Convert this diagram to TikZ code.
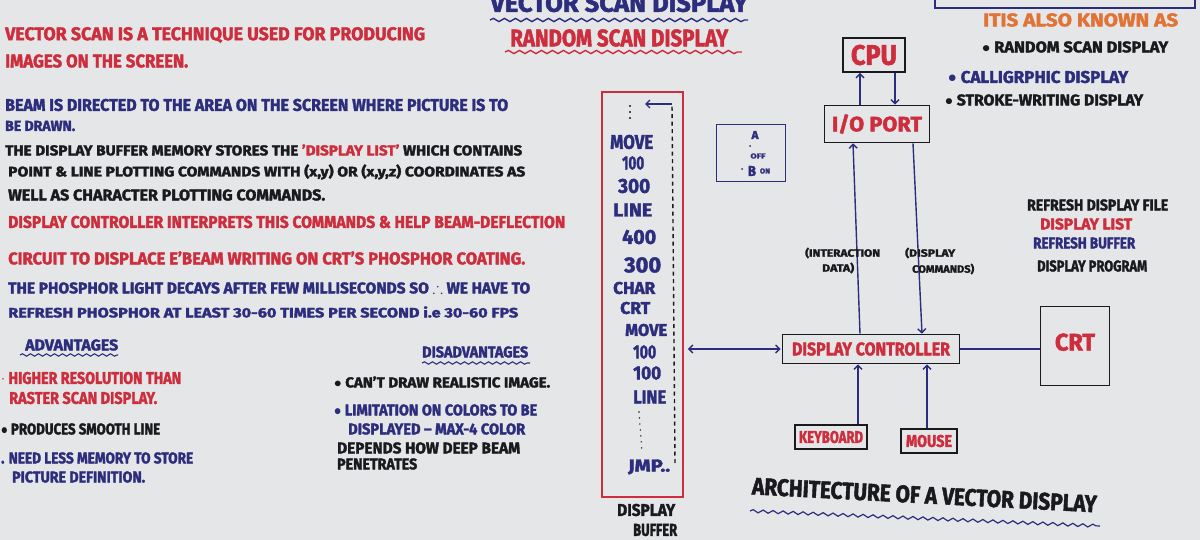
\documentclass[tikz,border=0pt]{standalone}
\usepackage{fontspec}
\setmainfont{Fira Sans}[FakeBold=2]
\usepackage{amssymb}
\usetikzlibrary{decorations.pathmorphing,arrows.meta}
\definecolor{board}{RGB}{228,230,231}
\definecolor{mred}{RGB}{205,45,60}
\definecolor{mblue}{RGB}{45,45,125}
\definecolor{mblack}{RGB}{25,25,30}
\definecolor{morange}{RGB}{225,115,55}
\newcommand\T[3]{\resizebox{#1pt}{#2pt}{\fontseries{sb}\selectfont #3}}
\tikzset{
  tx/.style={inner sep=0pt, anchor=west},
  tc/.style={inner sep=0pt},
  boxk/.style={draw=mblack, line width=1.6pt, inner sep=0pt, text=mred},
  wavy/.style={decorate, decoration={snake, amplitude=1.6pt, segment length=11pt}, line width=1.4pt},
  link/.style={draw=mblue, line width=1.4pt},
  arr/.style={link, -{Straight Barb[length=4pt,width=8pt]}},
  darr/.style={link, {Straight Barb[length=4pt,width=8pt]}-{Straight Barb[length=4pt,width=8pt]}},
}
\begin{document}
\begin{tikzpicture}[x=1pt,y=-1pt]
\useasboundingbox (0,0) rectangle (1200,540);
\clip (0,0) rectangle (1200,540);
\fill[board] (0,0) rectangle (1200,540);

% title
\node[tx, text=mblue] (title) at (490,3) {\T{258}{18}{VECTOR SCAN DISPLAY}};
\draw[wavy, mblue] (490,20) -- (748,20);
\node[tx, text=mred] (subtitle) at (510,38) {\T{218}{17}{RANDOM SCAN DISPLAY}};
\draw[wavy, mred] (505,52) -- (742,52);

% top right partial box
\draw[mblue, line width=1.6pt] (935,-5) -- (935,8) -- (1195,8) -- (1195,-5);

% left text
\node[tx, text=mred] (t1) at (5,35) {\T{420}{13}{VECTOR SCAN IS A TECHNIQUE USED FOR PRODUCING}};
\node[tx, text=mred] (t2) at (5,61) {\T{183}{13}{IMAGES ON THE SCREEN.}};
\node[tx, text=mblue] (t3) at (5,105) {\T{503}{12}{BEAM IS DIRECTED TO THE AREA ON THE SCREEN WHERE PICTURE IS TO}};
\node[tx, text=mblue] (t4) at (5,126) {\T{70}{10}{BE DRAWN.}};
\node[tx, text=mblack] (t5) at (5,150) {\T{517}{11}{THE DISPLAY BUFFER MEMORY STORES THE \textcolor{mred}{'DISPLAY LIST'} WHICH CONTAINS}};
\node[tx, text=mblack] (t6) at (8,172) {\T{517}{12}{POINT \& LINE PLOTTING COMMANDS WITH (x,y) OR (x,y,z) COORDINATES AS}};
\node[tx, text=mblack] (t7) at (8,195) {\T{317}{11}{WELL AS CHARACTER PLOTTING COMMANDS.}};
\node[tx, text=mred] (t8) at (8,222) {\T{557}{12}{DISPLAY CONTROLLER INTERPRETS THIS COMMANDS \& HELP BEAM-DEFLECTION}};
\node[tx, text=mred] (t9) at (8,258) {\T{517}{13}{CIRCUIT TO DISPLACE E'BEAM WRITING ON CRT'S PHOSPHOR COATING.}};
\node[tx, text=mblue] (t10) at (8,288) {\T{522}{11}{THE PHOSPHOR LIGHT DECAYS AFTER FEW MILLISECONDS SO $\therefore$ WE HAVE TO}};
\node[tx, text=mblue] (t11) at (8,312) {\T{510}{11}{REFRESH PHOSPHOR AT LEAST 30-60 TIMES PER SECOND i.e 30-60 FPS}};

% advantages
\node[tx, text=mblue] (adv) at (25,345) {\T{93}{11}{ADVANTAGES}};
\draw[wavy, mblue, line width=1.1pt, decoration={amplitude=1.2pt, segment length=8pt}] (20,355) -- (118,355);
\node[tx, text=mred] (a1) at (1,378) {\T{180}{12}{$\cdot$ HIGHER RESOLUTION THAN}};
\node[tx, text=mred] (a2) at (9,398) {\T{148}{12}{RASTER SCAN DISPLAY.}};
\node[tx, text=mblack] (a3) at (1,429) {\T{159}{11}{$\bullet$ PRODUCES SMOOTH LINE}};
\node[tx, text=mblue] (a4) at (1,458) {\T{192}{11}{. NEED LESS MEMORY TO STORE}};
\node[tx, text=mblue] (a5) at (12,477) {\T{133}{11}{PICTURE DEFINITION.}};

% disadvantages
\node[tx, text=mblue] (dis) at (422,352) {\T{106}{11}{DISADVANTAGES}};
\draw[wavy, mblue, line width=1.1pt, decoration={amplitude=1.2pt, segment length=8pt}] (422,363) -- (530,363);
\node[tx, text=mblack] (d1) at (334,382) {\T{216}{11}{$\bullet$ CAN'T DRAW REALISTIC IMAGE.}};
\node[tx, text=mblue] (d2) at (334,410) {\T{203}{11}{$\bullet$ LIMITATION ON COLORS TO BE}};
\node[tx, text=mblue] (d3) at (348,429) {\T{177}{11}{DISPLAYED -- MAX-4 COLOR}};
\node[tx, text=mblack] (d4) at (337,448) {\T{183}{11}{DEPENDS HOW DEEP BEAM}};
\node[tx, text=mblack] (d5) at (337,464) {\T{80}{11}{PENETRATES}};

% display buffer
\node[draw=mred, line width=1.6pt, minimum width=81pt, minimum height=405pt, inner sep=0pt] (buf) at (642.5,294.5) {};
\foreach \yy in {106,112,118} \fill[mblack] (630,\yy) circle (1.1pt);
\node[tx, text=mblue] (b1) at (610,142) {\T{43}{14}{MOVE}};
\node[tx, text=mblue] (b2) at (622,163) {\T{22}{13}{100}};
\node[tx, text=mblue] (b3) at (618,186) {\T{32}{14}{300}};
\node[tx, text=mblue] (b4) at (613,210) {\T{39}{13}{LINE}};
\node[tx, text=mblue] (b5) at (622,237) {\T{34}{14}{400}};
\node[tx, text=mblue] (b6) at (624,265) {\T{37}{15}{300}};
\node[tx, text=mblue] (b7) at (613,288) {\T{42}{12}{CHAR}};
\node[tx, text=mblue] (b8) at (620,308) {\T{30}{12}{CRT}};
\node[tx, text=mblue] (b9) at (625,330) {\T{42}{12}{MOVE}};
\node[tx, text=mblue] (b10) at (633,352) {\T{23}{13}{100}};
\node[tx, text=mblue] (b11) at (633,373) {\T{28}{13}{100}};
\node[tx, text=mblue] (b12) at (633,397) {\T{33}{13}{LINE}};
\draw[mblack, line width=1.6pt, line cap=round, dash pattern=on 0pt off 6pt] (639,412) -- (642,452);
\node[tx, text=mblue] (b13) at (628,467) {\T{42}{12}{JMP..}};
\coordinate (jend) at (675,463);
\coordinate (ltop) at (672,104);
\coordinate (lend) at (645,104);
\draw[mblack, line width=1.4pt, dash pattern=on 4pt off 3.5pt] (jend) -- (ltop);
\draw[arr] (ltop) -- (lend);
\node[tx, text=mblack] (bl1) at (617,510) {\T{58}{12}{DISPLAY}};
\node[tx, text=mblack] (bl2) at (633,530) {\T{44}{12}{BUFFER}};

% small A/B box
\node[draw=mblue, line width=1.6pt, minimum width=69pt, minimum height=57pt, inner sep=0pt] (ab) at (751,153) {};
\node[tc, text=mblue] (abA) at (755,135) {\T{7}{8}{A}};
\fill[mblue] (750,146) circle (1pt);
\node[tc, text=mblue] (aboff) at (758,156) {\T{15}{5}{OFF}};
\fill[mblue] (742,169) circle (1pt);
\node[tc, text=mblue] (abB) at (752,171) {\T{8}{10}{B}};
\node[tc, text=mblue] (abon) at (765,171) {\T{10}{5}{ON}};

% architecture
\node[boxk] (cpu) at (874,55) [minimum width=62pt, minimum height=34pt] {\T{46}{20}{CPU}};
\node[boxk] (io) at (877,124) [minimum width=105pt, minimum height=37pt] {\T{90}{17}{I/O PORT}};
\node[boxk] (dc) at (871,349) [minimum width=177pt, minimum height=29pt] {\T{158}{13}{DISPLAY CONTROLLER}};
\node[boxk] (crt) at (1075,346) [minimum width=69pt, minimum height=79pt] {\raisebox{8pt}{\T{40}{17}{CRT}}};
\node[boxk] (kb) at (831,437) [minimum width=72pt, minimum height=24pt] {\T{64}{12}{KEYBOARD}};
\node[boxk] (ms) at (929,441) [minimum width=56pt, minimum height=24pt] {\T{46}{12}{MOUSE}};

\draw[arr] ([xshift=-17pt]io.north) -- ([xshift=-14pt]cpu.south);
\draw[arr] ([xshift=21pt]cpu.south) -- ([xshift=18pt]io.north);
\draw[arr] ([xshift=-11pt]dc.north) -- ([xshift=-24pt]io.south);
\draw[arr] ([xshift=36pt]io.south) -- ([xshift=51pt]dc.north);
\draw[arr] ([xshift=27pt]kb.north) -- ([xshift=-13pt]dc.south);
\draw[arr] ([xshift=-2pt]ms.north) -- ([xshift=56pt]dc.south);
\draw[link] (dc.east) -- (dc.east -| crt.west);
\draw[darr, shorten <=1pt, shorten >=4pt] (dc.west) -- (dc.west -| buf.east);

\node[tx, text=mblack] (l1) at (805,253) {\T{75}{9}{(INTERACTION}};
\node[tx, text=mblack] (l2) at (822,268) {\T{32}{9}{DATA)}};
\node[tx, text=mblack] (l3) at (905,253) {\T{50}{9}{(DISPLAY}};
\node[tx, text=mblack] (l4) at (912,269) {\T{62}{9}{COMMANDS)}};

% right texts
\node[tx, text=morange] (r0) at (983,20) {\T{195}{13}{ITIS ALSO KNOWN AS}};
\node[tx, text=mblack] (r1) at (982,47) {\T{186}{11}{$\bullet$ RANDOM SCAN DISPLAY}};
\node[tx, text=mblue] (r2) at (948,77) {\T{180}{12}{$\bullet$ CALLIGRPHIC DISPLAY}};
\node[tx, text=mblack] (r3) at (945,100) {\T{198}{11}{$\bullet$ STROKE-WRITING DISPLAY}};
\node[tx, text=mblack] (r4) at (1027,205) {\T{141}{11}{REFRESH DISPLAY FILE}};
\node[tx, text=mred] (r5) at (1040,224) {\T{92}{11}{DISPLAY LIST}};
\node[tx, text=mblue] (r6) at (1033,243) {\T{102}{11}{REFRESH BUFFER}};
\node[tx, text=mblack] (r7) at (1037,266) {\T{110}{11}{DISPLAY PROGRAM}};

\node[tx, text=mblack, rotate=-3] (arch) at (752,486) {\T{345}{17}{ARCHITECTURE OF A VECTOR DISPLAY}};
\draw[wavy, mblue, line width=1.2pt, decoration={amplitude=1.5pt, segment length=10pt}] (750,511) -- (1100,526);
\end{tikzpicture}
\end{document}
